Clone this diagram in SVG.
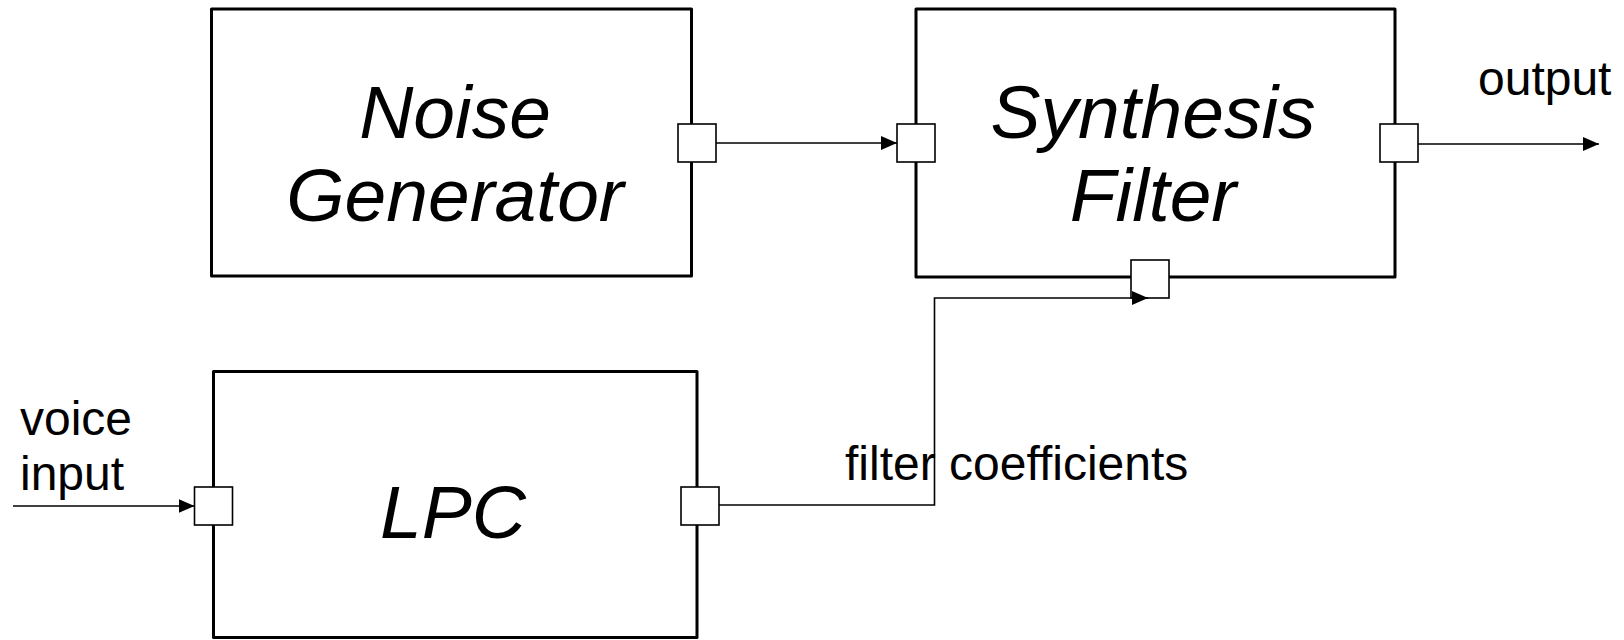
<svg xmlns="http://www.w3.org/2000/svg" width="1624" height="640" viewBox="0 0 1624 640">
<style>
.box{fill:#fff;stroke:#000;stroke-width:3;stroke-linejoin:round}
.port{fill:#fff;stroke:#000;stroke-width:1.6}
.big{font-family:"Liberation Sans",Arial,sans-serif;font-style:italic;font-size:75px;text-anchor:middle;fill:#000}
.lbl{font-family:"Liberation Sans",Arial,sans-serif;font-size:48px;fill:#000}
.wire{fill:none;stroke:#000;stroke-width:1.6}
</style>
<defs>
<marker id="arr" markerUnits="userSpaceOnUse" markerWidth="16" markerHeight="14" refX="16" refY="7" orient="auto">
<path d="M0,0 L16,7 L0,14 z" fill="#000"/>
</marker>
</defs>
<rect width="1624" height="640" fill="#fff"/>
<g id="noise-generator">
<rect class="box" x="211.5" y="9" width="480" height="267"/>
<text class="big" x="455" y="138">Noise</text>
<text class="big" x="455" y="221">Generator</text>
<rect class="port" x="678" y="124" width="38" height="38"/>
</g>
<g id="synthesis-filter">
<rect class="box" x="916" y="9" width="479" height="268"/>
<text class="big" x="1153" y="138">Synthesis</text>
<text class="big" x="1153" y="221">Filter</text>
<rect class="port" x="897" y="124" width="38" height="38"/>
<rect class="port" x="1380" y="124" width="38" height="38"/>
<rect class="port" x="1131" y="260" width="38" height="38"/>
</g>
<g id="lpc">
<rect class="box" x="213.5" y="371.5" width="483.5" height="266"/>
<text class="big" x="453" y="538">LPC</text>
<rect class="port" x="194.5" y="487" width="38" height="38"/>
<rect class="port" x="681" y="487" width="38" height="38"/>
</g>
<g id="connectors">
<path class="wire" d="M716,143 L897,143" marker-end="url(#arr)"/>
<path class="wire" d="M1418,144 L1599,144" marker-end="url(#arr)"/>
<path class="wire" d="M13,506 L194.5,506" marker-end="url(#arr)"/>
<path class="wire" d="M719,505 L934.5,505 L934.5,298 L1148,298" marker-end="url(#arr)"/>
</g>
<g id="labels">
<text class="lbl" x="1478" y="95">output</text>
<text class="lbl" x="20" y="435">voice</text>
<text class="lbl" x="20" y="490">input</text>
<text class="lbl" x="845" y="480">filter coefficients</text>
</g>
</svg>
